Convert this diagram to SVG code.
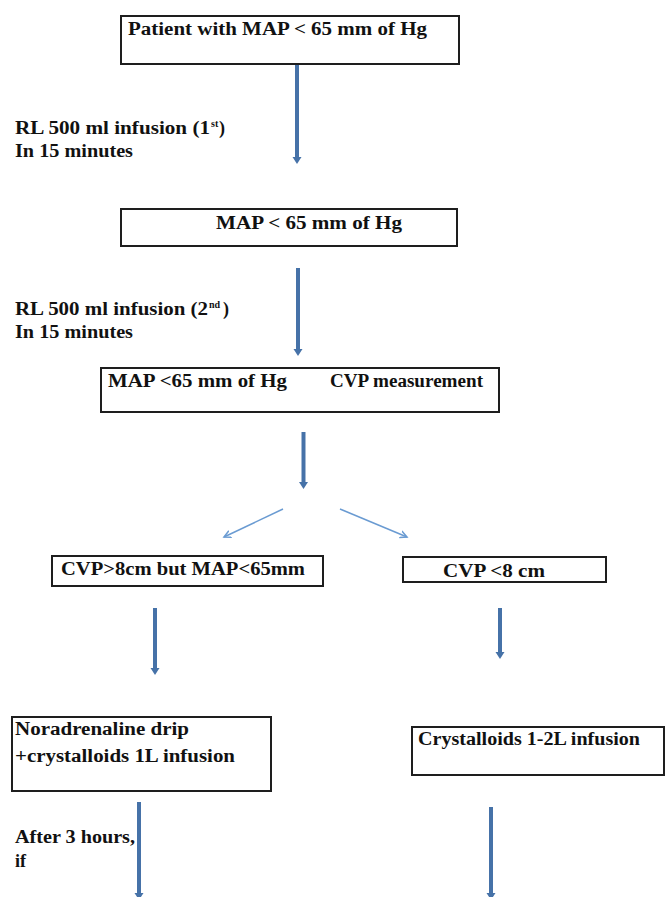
<svg xmlns="http://www.w3.org/2000/svg" width="665" height="897" viewBox="0 0 665 897">
<defs>
<style>
.box{fill:#fff;stroke:#1e1e1e;stroke-width:2}
.t{font-family:"Liberation Serif","Times New Roman",serif;font-weight:bold;font-size:18px;fill:#111}
.sup{font-family:"Liberation Serif","Times New Roman",serif;font-weight:bold;font-size:10px;fill:#111}
.thick{stroke:#4672a8;stroke-width:4;fill:none}
.thin{stroke:#6a9bd2;stroke-width:1.5;fill:none}
</style>
<marker id="ah" markerUnits="userSpaceOnUse" markerWidth="10" markerHeight="10" viewBox="0 -5 10 10" refX="0" refY="0" orient="auto">
<path d="M0,-4.5 L7,0 L0,4.5 z" fill="#4672a8"/>
</marker>
<marker id="ah2" markerUnits="userSpaceOnUse" markerWidth="10" markerHeight="10" viewBox="0 -5 10 10" refX="7" refY="0" orient="auto">
<path d="M0,-3.5 L7,0 L0,3.5" fill="none" stroke="#6a9bd2" stroke-width="1.5"/>
</marker>
</defs>
<rect width="665" height="897" fill="#fff"/>
<g id="connectors">
<line class="thick" x1="297" y1="64" x2="297" y2="157" marker-end="url(#ah)"/>
<line class="thick" x1="298" y1="268" x2="298" y2="349" marker-end="url(#ah)"/>
<line class="thick" x1="303.5" y1="432" x2="303.5" y2="482" marker-end="url(#ah)"/>
<line class="thin" x1="283" y1="509" x2="224" y2="537" marker-end="url(#ah2)"/>
<line class="thin" x1="340" y1="509" x2="407" y2="537" marker-end="url(#ah2)"/>
<line class="thick" x1="155" y1="608" x2="155" y2="668" marker-end="url(#ah)"/>
<line class="thick" x1="500" y1="608" x2="500" y2="652" marker-end="url(#ah)"/>
<line class="thick" x1="139" y1="802" x2="139" y2="893" marker-end="url(#ah)"/>
<line class="thick" x1="491" y1="807" x2="491" y2="893" marker-end="url(#ah)"/>
</g>
<g id="n1">
<rect class="box" x="121" y="16" width="338" height="48"/>
<text class="t" x="128" y="35" textLength="299" lengthAdjust="spacingAndGlyphs">Patient with MAP  &lt; 65 mm  of Hg</text>
</g>
<g id="l1">
<text class="t" x="15" y="134" textLength="195" lengthAdjust="spacingAndGlyphs">RL 500 ml infusion (1</text>
<text class="sup" x="211" y="127">st</text>
<text class="t" x="219" y="134">)</text>
<text class="t" x="15" y="157" textLength="118" lengthAdjust="spacingAndGlyphs">In 15 minutes</text>
</g>
<g id="n2">
<rect class="box" x="121" y="209" width="336" height="37"/>
<text class="t" x="216" y="229" textLength="186" lengthAdjust="spacingAndGlyphs">MAP &lt; 65 mm of Hg</text>
</g>
<g id="l2">
<text class="t" x="15" y="315" textLength="193" lengthAdjust="spacingAndGlyphs">RL 500 ml infusion (2</text>
<text class="sup" x="209" y="308">nd</text>
<text class="t" x="223" y="315">)</text>
<text class="t" x="15" y="338" textLength="118" lengthAdjust="spacingAndGlyphs">In 15 minutes</text>
</g>
<g id="n3">
<rect class="box" x="101" y="368" width="398" height="44"/>
<text class="t" x="108" y="387" textLength="179" lengthAdjust="spacingAndGlyphs">MAP &lt;65 mm  of Hg</text>
<text class="t" x="330" y="387" textLength="153" lengthAdjust="spacingAndGlyphs">CVP measurement</text>
</g>
<g id="n4">
<rect class="box" x="52" y="556" width="271" height="30"/>
<text class="t" x="61" y="575" textLength="244" lengthAdjust="spacingAndGlyphs">CVP&gt;8cm but  MAP&lt;65mm</text>
</g>
<g id="n5">
<rect class="box" x="403" y="557" width="203" height="25"/>
<text class="t" x="443" y="577" textLength="102" lengthAdjust="spacingAndGlyphs">CVP &lt;8  cm</text>
</g>
<g id="n6">
<rect class="box" x="12" y="717" width="259" height="74"/>
<text class="t" x="15" y="735" textLength="174" lengthAdjust="spacingAndGlyphs">Noradrenaline drip</text>
<text class="t" x="15" y="762" textLength="220" lengthAdjust="spacingAndGlyphs">+crystalloids 1L infusion</text>
</g>
<g id="n7">
<rect class="box" x="412" y="727" width="252" height="48"/>
<text class="t" x="418" y="745" textLength="222" lengthAdjust="spacingAndGlyphs">Crystalloids 1-2L infusion</text>
</g>
<g id="l3">
<text class="t" x="15" y="843" textLength="120" lengthAdjust="spacingAndGlyphs">After 3 hours,</text>
<text class="t" x="15" y="867">if</text>
</g>
</svg>
